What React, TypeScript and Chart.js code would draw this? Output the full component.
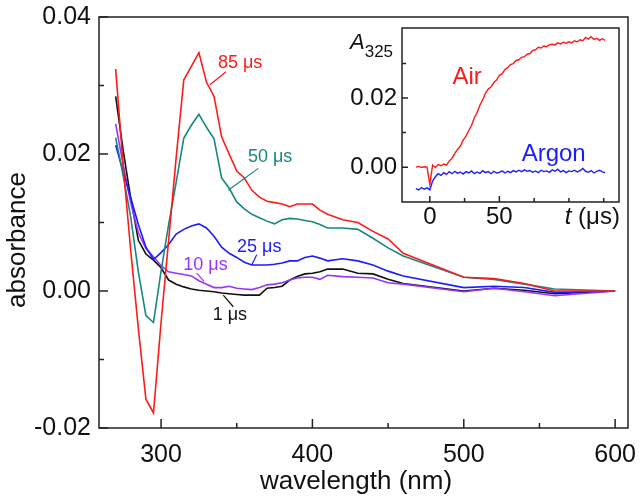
import React, { useEffect, useRef } from 'react';
import { Chart, registerables } from 'chart.js';

Chart.register(...registerables);

// ---------- main chart data ----------
const wavelengths = [270, 275, 280, 285, 290, 295, 300, 305, 310, 315, 320, 325, 330, 335, 340, 345, 350, 355, 360, 365, 370, 375, 380, 385, 390, 395, 400, 405, 410, 420, 430, 440, 450, 460, 500, 520, 540, 560, 600];

const abs85us = [0.0324, 0.0182, 0.0058, -0.0055, -0.0158, -0.0178, -0.0046, 0.0074, 0.0195, 0.0308, 0.0328, 0.0348, 0.0305, 0.0284, 0.0225, 0.0200, 0.0175, 0.0165, 0.0147, 0.0137, 0.0131, 0.0129, 0.0127, 0.0123, 0.0127, 0.0127, 0.0127, 0.0118, 0.0112, 0.0104, 0.0100, 0.0087, 0.0076, 0.0055, 0.0020, 0.0018, 0.0011, 0.0000, 0.0000];
const abs50us = [0.0224, 0.0168, 0.0107, 0.0028, -0.0036, -0.0046, 0.0029, 0.0097, 0.0159, 0.0223, 0.0242, 0.0258, 0.0239, 0.0222, 0.0165, 0.0150, 0.0130, 0.0120, 0.0112, 0.0107, 0.0102, 0.0098, 0.0104, 0.0106, 0.0105, 0.0103, 0.0101, 0.0097, 0.0092, 0.0092, 0.0090, 0.0077, 0.0063, 0.0051, 0.0020, 0.0017, 0.0010, 0.0003, 0.0000];
const abs25us = [0.0213, 0.0174, 0.0136, 0.0097, 0.0064, 0.0046, 0.0056, 0.0068, 0.0083, 0.0090, 0.0095, 0.0098, 0.0092, 0.0080, 0.0064, 0.0055, 0.0049, 0.0042, 0.0038, 0.0038, 0.0038, 0.0039, 0.0041, 0.0044, 0.0044, 0.0049, 0.0051, 0.0048, 0.0044, 0.0047, 0.0044, 0.0038, 0.0029, 0.0022, 0.0005, 0.0007, 0.0005, -0.0002, 0.0000];
const abs10us = [0.0244, 0.0184, 0.0128, 0.0085, 0.0062, 0.0050, 0.0037, 0.0028, 0.0026, 0.0024, 0.0022, 0.0015, 0.0010, 0.0005, 0.0005, 0.0007, 0.0004, 0.0003, 0.0002, 0.0005, 0.0009, 0.0010, 0.0012, 0.0016, 0.0019, 0.0020, 0.0020, 0.0017, 0.0023, 0.0021, 0.0020, 0.0019, 0.0012, 0.0010, -0.0001, 0.0004, -0.0001, -0.0007, 0.0000];
const abs1us = [0.0284, 0.0205, 0.0135, 0.0074, 0.0054, 0.0045, 0.0034, 0.0016, 0.0010, 0.0006, 0.0003, 0.0001, 0.0000, -0.0001, -0.0003, -0.0004, -0.0005, -0.0006, -0.0006, -0.0006, 0.0004, 0.0005, 0.0007, 0.0016, 0.0021, 0.0025, 0.0026, 0.0028, 0.0032, 0.0032, 0.0026, 0.0025, 0.0017, 0.0011, 0.0000, 0.0004, 0.0001, -0.0004, 0.0000];

const seriesNames = ['85 μs', '50 μs', '25 μs', '10 μs', '1 μs'];
const seriesValues = [abs85us, abs50us, abs25us, abs10us, abs1us];
const seriesColors = ['#ff1a1a', '#17877f', '#1c1cff', '#9a33ff', '#111111'];

const mainXTicks = [300, 350, 400, 450, 500, 550, 600];
const mainXLabels = [300, 400, 500, 600];
const mainYTicks = [-0.02, -0.01, 0, 0.01, 0.02, 0.03, 0.04];
const mainYLabels = [-0.02, 0, 0.02, 0.04];

// curve labels (text anchor + leader line, in data coordinates)
const curveLabelText = ['85 μs', '50 μs', '25 μs', '10 μs', '1 μs'];
const curveLabelX = [337.6, 357.4, 350.2, 314.7, 334.1];
const curveLabelY = [0.0333, 0.0196, 0.0064, 0.0038, -0.0035];
const leaderFrom = [[342.9, 0.0320], [364.2, 0.0179], [363.2, 0.0053], [323.6, 0.0026], [347.7, -0.0023]];
const leaderTo = [[332.3, 0.0301], [344.4, 0.0147], [359.9, 0.0038], [328.4, 0.0014], [341.1, -0.0006]];

// ---------- inset data ----------
const insetTime = [-10, -8, -6, -4, -2, 0, 2, 4, 6, 8, 10, 12, 14, 16, 18, 20, 22, 24, 26, 28, 30, 32, 34, 36, 38, 40, 42, 44, 46, 48, 50, 52, 54, 56, 58, 60, 62, 64, 66, 68, 70, 72, 74, 76, 78, 80, 82, 84, 86, 88, 90, 92, 94, 96, 98, 100, 102, 104, 106, 108, 110, 112, 114, 116, 118, 120, 122, 124, 126];
const insetAir = [0.0000, 0.0002, -0.0001, 0.0001, 0.0000, -0.0050, 0.0006, -0.0001, 0.0008, 0.0004, 0.0009, 0.0006, 0.0018, 0.0026, 0.0040, 0.0052, 0.0061, 0.0078, 0.0090, 0.0106, 0.0121, 0.0143, 0.0158, 0.0179, 0.0195, 0.0214, 0.0226, 0.0232, 0.0245, 0.0252, 0.0266, 0.0270, 0.0283, 0.0288, 0.0297, 0.0300, 0.0309, 0.0311, 0.0318, 0.0320, 0.0327, 0.0329, 0.0338, 0.0340, 0.0347, 0.0345, 0.0351, 0.0349, 0.0355, 0.0356, 0.0354, 0.0360, 0.0357, 0.0362, 0.0359, 0.0363, 0.0360, 0.0366, 0.0363, 0.0369, 0.0366, 0.0376, 0.0371, 0.0378, 0.0370, 0.0373, 0.0367, 0.0372, 0.0367];
const insetArgon = [-0.0062, -0.0066, -0.0059, -0.0064, -0.0060, -0.0066, -0.0040, -0.0028, -0.0019, -0.0024, -0.0016, -0.0021, -0.0013, -0.0019, -0.0012, -0.0018, -0.0014, -0.0020, -0.0013, -0.0017, -0.0011, -0.0019, -0.0014, -0.0018, -0.0010, -0.0016, -0.0013, -0.0019, -0.0012, -0.0017, -0.0015, -0.0011, -0.0017, -0.0012, -0.0016, -0.0010, -0.0014, -0.0009, -0.0013, -0.0008, -0.0012, -0.0010, -0.0015, -0.0011, -0.0016, -0.0009, -0.0013, -0.0011, -0.0015, -0.0008, -0.0012, -0.0006, -0.0014, -0.0010, -0.0016, -0.0011, -0.0013, -0.0009, -0.0014, -0.0010, -0.0004, -0.0012, -0.0015, -0.0010, -0.0017, -0.0012, -0.0009, -0.0014, -0.0016];

const insetNames = ['Air', 'Argon'];
const insetColors = ['#ff1a1a', '#1c1cff'];
const insetLabelX = [16.3, 66];
const insetLabelY = [0.0261, 0.0038];

const insetXTicks = [0, 25, 50, 75, 100, 125];
const insetXLabels = [0, 50];
const insetYTicks = [0, 0.01, 0.02, 0.03];
const insetYLabels = [0, 0.02];

const FONT = '"Liberation Sans", Arial, Helvetica, sans-serif';
const INK = '#111111';

function drawFrameAndTicks(chart: any, xTicks: number[], xLabels: number[], yTicks: number[], yLabels: number[], major: number, minor: number) {
  const { ctx, chartArea: a, scales } = chart;
  ctx.save();
  ctx.strokeStyle = '#222222';
  ctx.lineWidth = 1.5;
  ctx.strokeRect(a.left, a.top, a.right - a.left, a.bottom - a.top);
  ctx.beginPath();
  xTicks.forEach((v) => {
    const px = scales.x.getPixelForValue(v);
    const len = xLabels.includes(v) ? major : minor;
    ctx.moveTo(px, a.bottom);
    ctx.lineTo(px, a.bottom - len);
  });
  yTicks.forEach((v) => {
    const py = scales.y.getPixelForValue(v);
    const len = yLabels.includes(v) ? major : minor;
    ctx.moveTo(a.left, py);
    ctx.lineTo(a.left + len, py);
  });
  ctx.stroke();
  ctx.restore();
}

const zeroPadding = (s: any) => {
  s.paddingTop = 0;
  s.paddingBottom = 0;
  s.paddingLeft = 0;
  s.paddingRight = 0;
};

const mainPlugin = {
  id: 'mainDecor',
  afterDraw(chart: any) {
    drawFrameAndTicks(chart, mainXTicks, mainXLabels, mainYTicks, mainYLabels, 9, 5);
    const { ctx, scales } = chart;
    ctx.save();
    // curve labels
    ctx.font = `18px ${FONT}`;
    ctx.textBaseline = 'middle';
    ctx.textAlign = 'left';
    curveLabelText.forEach((t, i) => {
      const color = seriesColors[seriesNames.indexOf(t)];
      ctx.fillStyle = color;
      ctx.fillText(t, scales.x.getPixelForValue(curveLabelX[i]), scales.y.getPixelForValue(curveLabelY[i]));
      ctx.strokeStyle = color;
      ctx.lineWidth = 1.2;
      ctx.beginPath();
      ctx.moveTo(scales.x.getPixelForValue(leaderFrom[i][0]), scales.y.getPixelForValue(leaderFrom[i][1]));
      ctx.lineTo(scales.x.getPixelForValue(leaderTo[i][0]), scales.y.getPixelForValue(leaderTo[i][1]));
      ctx.stroke();
    });
    // axis titles
    ctx.fillStyle = INK;
    ctx.font = `26px ${FONT}`;
    ctx.textAlign = 'center';
    ctx.textBaseline = 'middle';
    ctx.fillText('wavelength (nm)', 356, 482);
    ctx.translate(18, 240);
    ctx.rotate(-Math.PI / 2);
    ctx.fillText('absorbance', 0, 0);
    ctx.restore();
  },
};

const insetPlugin = {
  id: 'insetDecor',
  afterDraw(chart: any) {
    drawFrameAndTicks(chart, insetXTicks, insetXLabels, insetYTicks, insetYLabels, 6, 4);
    const { ctx, chartArea: a, scales } = chart;
    ctx.save();
    ctx.textBaseline = 'middle';
    ctx.textAlign = 'left';
    ctx.font = `24px ${FONT}`;
    insetNames.forEach((n, i) => {
      ctx.fillStyle = insetColors[i];
      ctx.fillText(n, scales.x.getPixelForValue(insetLabelX[i]), scales.y.getPixelForValue(insetLabelY[i]));
    });
    // A325 axis label
    ctx.fillStyle = INK;
    ctx.textBaseline = 'alphabetic';
    ctx.font = `italic 22px ${FONT}`;
    const ax = a.left - 52;
    const ay = a.top + 21;
    ctx.fillText('A', ax, ay);
    const aw = ctx.measureText('A').width;
    ctx.font = `17px ${FONT}`;
    ctx.fillText('325', ax + aw, ay + 8);
    // t (μs) axis label
    ctx.font = `italic 24px ${FONT}`;
    const tx = scales.x.getPixelForValue(97);
    const ty = a.bottom + 22;
    ctx.fillText('t', tx, ty);
    const tw = ctx.measureText('t ').width;
    ctx.font = `24px ${FONT}`;
    ctx.fillText('(μs)', tx + tw, ty);
    ctx.restore();
  },
};

export default function App() {
  const mainRef = useRef<HTMLCanvasElement | null>(null);
  const insetRef = useRef<HTMLCanvasElement | null>(null);

  useEffect(() => {
    if (!mainRef.current || !insetRef.current) return;

    const main = new Chart(mainRef.current, {
      type: 'line',
      data: {
        datasets: seriesNames.map((name, i) => ({
          label: name,
          data: wavelengths.map((w, j) => ({ x: w, y: seriesValues[i][j] })),
          borderColor: seriesColors[i],
          backgroundColor: seriesColors[i],
          borderWidth: 1.6,
          pointRadius: 0,
          tension: 0,
          fill: false,
        })),
      },
      options: {
        responsive: false,
        animation: false,
        devicePixelRatio: 1,
        layout: { padding: { top: 17, right: 15, left: 0, bottom: 0 } },
        plugins: { legend: { display: false }, tooltip: { enabled: false } },
        scales: {
          x: {
            type: 'linear',
            min: 259,
            max: 608.5,
            grid: { display: false, drawTicks: false },
            border: { display: false },
            afterBuildTicks: (s: any) => { s.ticks = mainXTicks.map((v) => ({ value: v })); },
            afterFit: (s: any) => { s.height = 72; zeroPadding(s); },
            ticks: {
              autoSkip: false,
              maxRotation: 0,
              padding: 12,
              color: INK,
              font: { family: FONT, size: 25 },
              callback: (v: any) => (mainXLabels.includes(Number(v)) ? String(v) : ''),
            },
          },
          y: {
            type: 'linear',
            min: -0.02,
            max: 0.04,
            grid: { display: false, drawTicks: false },
            border: { display: false },
            afterBuildTicks: (s: any) => { s.ticks = mainYTicks.map((v) => ({ value: v })); },
            afterFit: (s: any) => { s.width = 99; zeroPadding(s); },
            ticks: {
              autoSkip: false,
              padding: 8,
              color: INK,
              font: { family: FONT, size: 25 },
              callback: (v: any) => (mainYLabels.includes(Number(v)) ? Number(v).toFixed(2) : ''),
            },
          },
        },
      },
      plugins: [mainPlugin],
    } as any);

    const inset = new Chart(insetRef.current, {
      type: 'line',
      data: {
        datasets: [insetArgon, insetAir].map((vals, k) => {
          const i = k === 0 ? 1 : 0;
          return {
            label: insetNames[i],
            data: insetTime.map((t, j) => ({ x: t, y: vals[j] })),
            borderColor: insetColors[i],
            borderWidth: 1.4,
            pointRadius: 0,
            tension: 0,
            fill: false,
          };
        }),
      },
      options: {
        responsive: false,
        animation: false,
        devicePixelRatio: 1,
        layout: { padding: { top: 8, right: 24, left: 0, bottom: 0 } },
        plugins: { legend: { display: false }, tooltip: { enabled: false } },
        scales: {
          x: {
            type: 'linear',
            min: -20,
            max: 136,
            grid: { display: false, drawTicks: false },
            border: { display: false },
            afterBuildTicks: (s: any) => { s.ticks = insetXTicks.map((v) => ({ value: v })); },
            afterFit: (s: any) => { s.height = 38; zeroPadding(s); },
            ticks: {
              autoSkip: false,
              maxRotation: 0,
              padding: 1,
              color: INK,
              font: { family: FONT, size: 24 },
              callback: (v: any) => (insetXLabels.includes(Number(v)) ? String(v) : ''),
            },
          },
          y: {
            type: 'linear',
            min: -0.0101,
            max: 0.0403,
            grid: { display: false, drawTicks: false },
            border: { display: false },
            afterBuildTicks: (s: any) => { s.ticks = insetYTicks.map((v) => ({ value: v })); },
            afterFit: (s: any) => { s.width = 72; zeroPadding(s); },
            ticks: {
              autoSkip: false,
              padding: 5,
              color: INK,
              font: { family: FONT, size: 24 },
              callback: (v: any) => (insetYLabels.includes(Number(v)) ? Number(v).toFixed(2) : ''),
            },
          },
        },
      },
      plugins: [insetPlugin],
    } as any);

    return () => {
      main.destroy();
      inset.destroy();
    };
  }, []);

  return (
    <div style={{ position: 'absolute', left: 0, top: 0, width: 643, height: 500, background: '#ffffff' }}>
      <canvas ref={mainRef} width={643} height={500} style={{ position: 'absolute', left: 0, top: 0, width: 643, height: 500 }} />
      <canvas ref={insetRef} width={313} height={220} style={{ position: 'absolute', left: 330, top: 20, width: 313, height: 220 }} />
    </div>
  );
}
